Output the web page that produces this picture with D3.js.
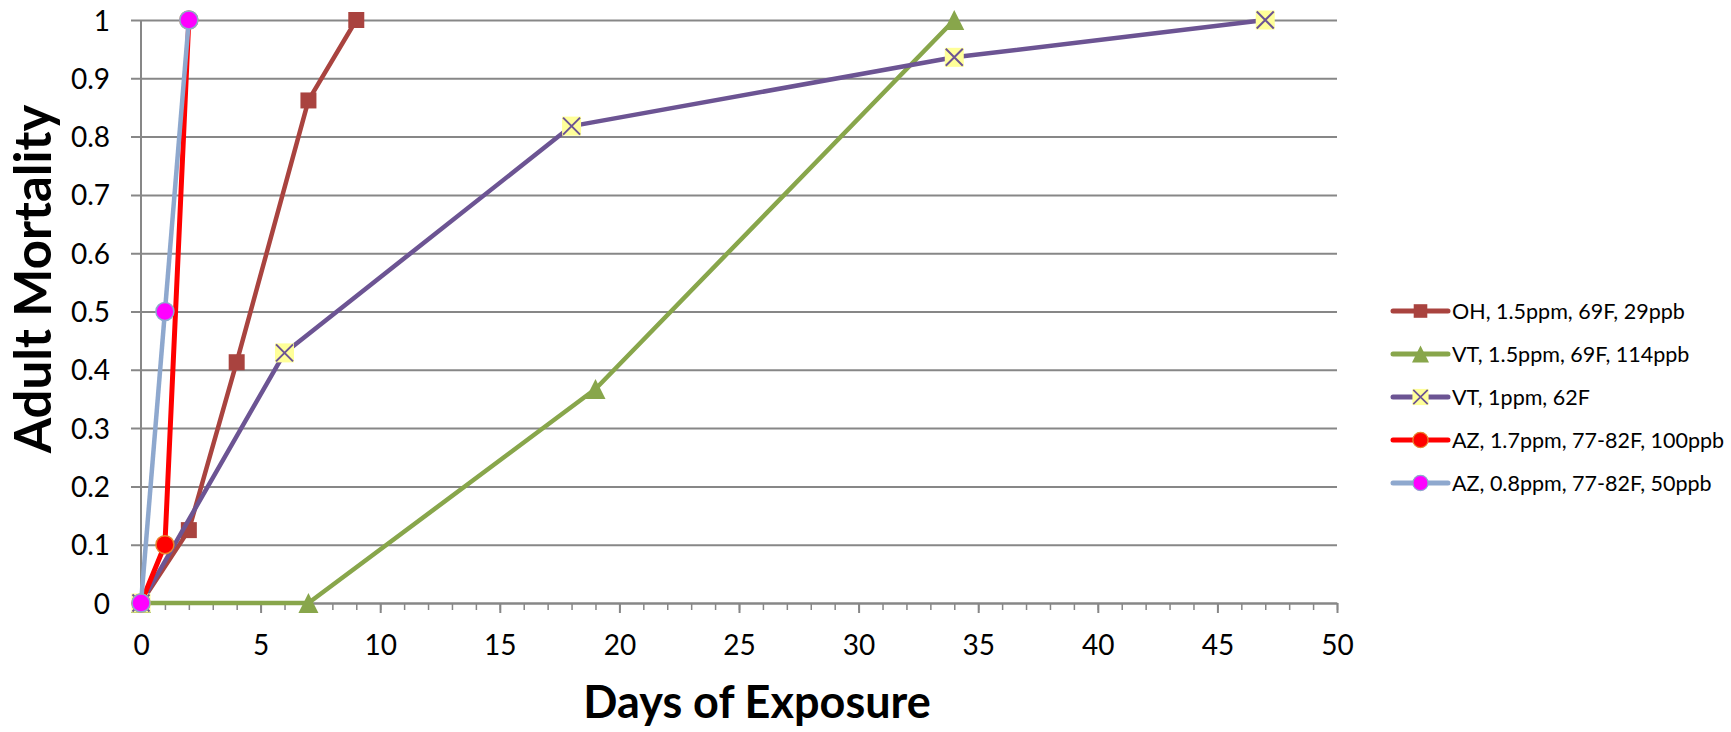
<!DOCTYPE html>
<html>
<head>
<meta charset="utf-8">
<script src="https://cdn.jsdelivr.net/npm/d3@7"></script>
<style>
  html, body { margin: 0; padding: 0; background: #fff; }
  svg { display: block; }
  text { font-family: Lato, "Open Sans", sans-serif; fill: #000; }
</style>
</head>
<body>
<svg id="chart" width="1731" height="732"></svg>
<script>
// Days of exposure and fraction of adults dead, one array pair per trial
const seriesNames = [
  "OH, 1.5ppm, 69F, 29ppb",
  "VT, 1.5ppm, 69F, 114ppb",
  "VT, 1ppm, 62F",
  "AZ, 1.7ppm, 77-82F, 100ppb",
  "AZ, 0.8ppm, 77-82F, 50ppb"
];
const ohDays = [0, 2, 4, 7, 9];
const ohMortality = [0, 0.125, 0.413, 0.862, 1];
const vtHighDays = [0, 7, 19, 34];
const vtHighMortality = [0, 0, 0.367, 1];
const vtLowDays = [0, 6, 18, 34, 47];
const vtLowMortality = [0, 0.429, 0.818, 0.936, 1];
const azHighDays = [0, 1, 2];
const azHighMortality = [0, 0.1, 1];
const azLowDays = [0, 1, 2];
const azLowMortality = [0, 0.5, 1];

const xTickValues = [0, 5, 10, 15, 20, 25, 30, 35, 40, 45, 50];
const yTickValues = [0, 0.1, 0.2, 0.3, 0.4, 0.5, 0.6, 0.7, 0.8, 0.9, 1];
const xTitle = "Days of Exposure";
const yTitle = "Adult Mortality";

// Custom marker shapes, sized by their bounding box edge
const squareShape = { draw(ctx, s) { const h = s / 2; ctx.rect(-h, -h, s, s); } };
const triangleShape = { draw(ctx, s) {
  const h = s / 2;
  ctx.moveTo(0, -h); ctx.lineTo(h, h); ctx.lineTo(-h, h); ctx.closePath();
} };
const circleShape = { draw(ctx, s) { const r = s / 2; ctx.moveTo(r, 0); ctx.arc(0, 0, r, 0, 2 * Math.PI); } };

const styles = [
  { line: "#A9433F", width: 4.5, shape: squareShape, size: 16, fill: "#A9433F", stroke: "none", cross: false },
  { line: "#88A64B", width: 4.5, shape: triangleShape, size: 20, fill: "#88A64B", stroke: "none", cross: false },
  { line: "#6C5493", width: 4.5, shape: squareShape, size: 19, fill: "#FFFF99", stroke: "none", cross: true },
  { line: "#FF0000", width: 5, shape: circleShape, size: 18, fill: "#FF0000", stroke: "#E8842E", cross: false },
  { line: "#8EA8CE", width: 4.5, shape: circleShape, size: 18, fill: "#FF00FF", stroke: "#8EA8CE", cross: false }
];

const series = [
  [ohDays, ohMortality],
  [vtHighDays, vtHighMortality],
  [vtLowDays, vtLowMortality],
  [azHighDays, azHighMortality],
  [azLowDays, azLowMortality]
].map(([xs, ys], i) => ({
  name: seriesNames[i],
  style: styles[i],
  points: xs.map((d, j) => ({ x: d, y: ys[j] }))
}));

const svg = d3.select("#chart");
const plot = { left: 141, right: 1337, top: 20, bottom: 603 };
const x = d3.scaleLinear().domain([0, 50]).range([plot.left, plot.right]);
const y = d3.scaleLinear().domain([0, 1]).range([plot.bottom, plot.top]);
const gridColor = "#878787";

// Horizontal gridlines, which extend left into the y-axis ticks
const yAxis = d3.axisLeft(y).tickValues(yTickValues)
  .tickSize(-(plot.right - plot.left)).tickSizeOuter(0).tickFormat(d3.format("~g"));
const gy = svg.append("g").attr("transform", `translate(${plot.left},0)`).call(yAxis);
gy.select(".domain").remove();
gy.selectAll(".tick line").attr("x1", -10).attr("stroke", gridColor).attr("stroke-width", 2);
gy.selectAll(".tick text").attr("x", -31).attr("font-size", 28).attr("dy", "0.36em")
  .style("font-family", "Lato, sans-serif");
svg.append("line").attr("x1", plot.left).attr("x2", plot.left)
  .attr("y1", plot.top).attr("y2", plot.bottom + 1).attr("stroke", gridColor).attr("stroke-width", 2);

// X axis with major ticks every 5 days and minor ticks every day
const gxMinor = svg.append("g").attr("transform", `translate(0,${plot.bottom})`)
  .call(d3.axisBottom(x).ticks(50).tickSize(7).tickFormat(""));
gxMinor.select(".domain").remove();
gxMinor.selectAll(".tick line").attr("stroke", gridColor).attr("stroke-width", 1.5);
const gx = svg.append("g").attr("transform", `translate(0,${plot.bottom})`)
  .call(d3.axisBottom(x).tickValues(xTickValues).tickSize(10).tickSizeOuter(0));
gx.select(".domain").attr("stroke", gridColor).attr("stroke-width", 2);
gx.selectAll(".tick line").attr("stroke", gridColor).attr("stroke-width", 2);
gx.selectAll(".tick text").attr("y", 52).attr("dy", 0).attr("font-size", 28)
  .style("font-family", "Lato, sans-serif");

// Axis titles
svg.append("text").attr("x", 757).attr("y", 718)
  .attr("text-anchor", "middle").attr("font-size", 45).attr("font-weight", "bold")
  .text(xTitle);
svg.append("text").attr("transform", "translate(51,279) rotate(-90)")
  .attr("text-anchor", "middle").attr("font-size", 51).attr("font-weight", "bold")
  .text(yTitle);

// Series lines and markers
const line = d3.line().x(d => x(d.x)).y(d => y(d.y));

function drawMarker(g, st) {
  g.append("path").attr("d", d3.symbol(st.shape, st.size)())
    .attr("fill", st.fill).attr("stroke", st.stroke).attr("stroke-width", 1.5);
  if (st.cross) {
    const h = st.size / 2 - 1;
    g.append("path").attr("d", `M${-h},${-h}L${h},${h}M${h},${-h}L${-h},${h}`)
      .attr("stroke", st.line).attr("stroke-width", 2).attr("fill", "none");
  }
}

series.forEach(s => {
  const g = svg.append("g");
  g.append("path").datum(s.points).attr("d", line)
    .attr("fill", "none").attr("stroke", s.style.line)
    .attr("stroke-width", s.style.width).attr("stroke-linejoin", "round");
  g.selectAll("g.mk").data(s.points).join("g").attr("class", "mk")
    .attr("transform", d => `translate(${x(d.x)},${y(d.y)})`)
    .each(function() { drawMarker(d3.select(this), s.style); });
});

// Legend
const legend = svg.append("g").attr("transform", "translate(1393,311)");
series.forEach((s, i) => {
  const row = legend.append("g").attr("transform", `translate(0,${i * 43})`);
  row.append("line").attr("x1", 0).attr("x2", 55).attr("y1", 0).attr("y2", 0)
    .attr("stroke", s.style.line).attr("stroke-width", 5).attr("stroke-linecap", "round");
  const mk = row.append("g").attr("transform", "translate(27.5,0) scale(0.85)");
  drawMarker(mk, s.style);
  row.append("text").attr("x", 59).attr("y", 0).attr("dy", "0.36em")
    .attr("font-size", 21.5).text(s.name);
});
</script>
</body>
</html>
